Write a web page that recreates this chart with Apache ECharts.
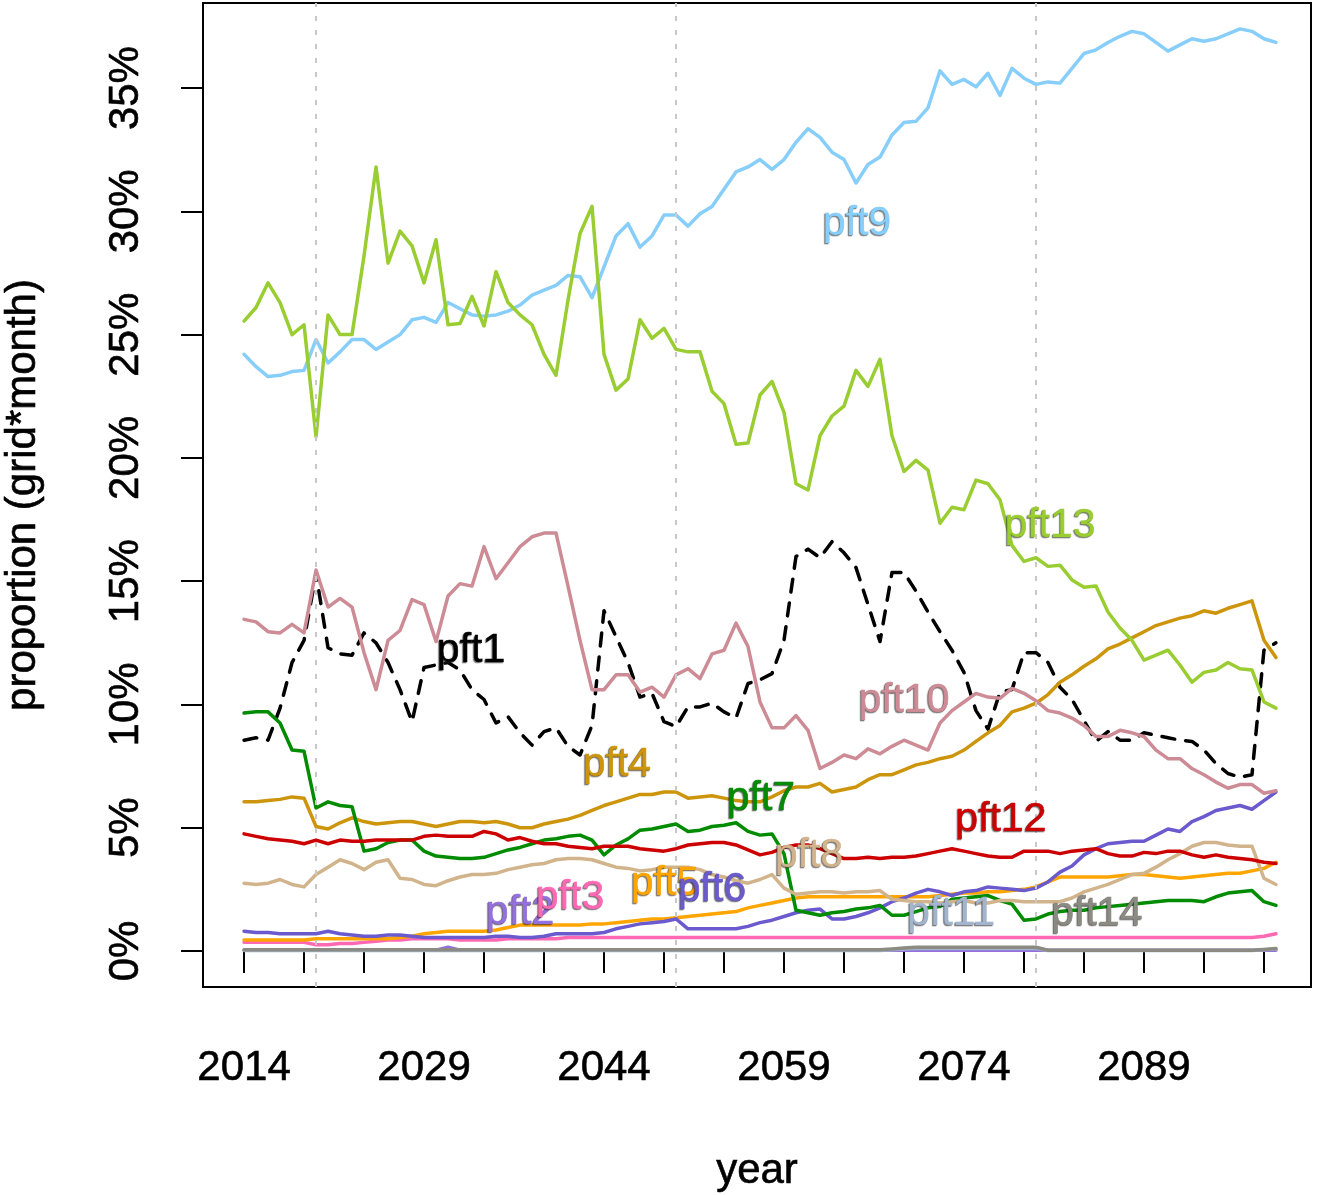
<!DOCTYPE html>
<html><head><meta charset="utf-8">
<script src="https://cdn.jsdelivr.net/npm/echarts@6/dist/echarts.min.js"></script>
<style>html,body{margin:0;padding:0;background:#fff;} #c{width:1321px;height:1195px;}</style>
</head><body><div id="c"></div>
<script>
const years = [2014,2015,2016,2017,2018,2019,2020,2021,2022,2023,
 2024,2025,2026,2027,2028,2029,2030,2031,2032,2033,
 2034,2035,2036,2037,2038,2039,2040,2041,2042,2043,
 2044,2045,2046,2047,2048,2049,2050,2051,2052,2053,
 2054,2055,2056,2057,2058,2059,2060,2061,2062,2063,
 2064,2065,2066,2067,2068,2069,2070,2071,2072,2073,
 2074,2075,2076,2077,2078,2079,2080,2081,2082,2083,
 2084,2085,2086,2087,2088,2089,2090,2091,2092,2093,
 2094,2095,2096,2097,2098,2099,2100];

const pft1 = [8.55,8.65,8.55,9.85,11.7,12.6,15.3,12.3,12.05,12.0,
 12.9,12.5,11.7,10.6,9.3,11.5,11.6,11.7,11.4,10.6,
 10.2,9.25,9.5,8.85,8.35,8.9,9.05,8.3,7.95,9.15,
 13.8,12.75,11.7,10.3,10.45,9.3,9.1,9.9,9.9,10.05,
 9.7,9.45,10.85,11.0,11.25,12.6,16.0,16.3,15.95,16.6,
 16.15,15.55,14.05,12.55,15.35,15.35,14.6,13.75,12.95,12.2,
 11.3,9.75,9.0,10.5,10.6,12.1,12.1,11.7,10.7,10.2,
 9.35,8.5,8.9,8.55,8.55,8.85,8.75,8.65,8.55,8.5,
 8.15,7.6,7.2,7.05,7.15,12.2,12.5];

const pft2 = [0.03,0.03,0.03,0.03,0.03,0.03,0.03,0.03,0.03,0.03,
 0.03,0.03,0.03,0.03,0.03,0.03,0.03,0.15,0.03,0.03,
 0.03,0.03,0.03,0.03,0.03,0.03,0.03,0.03,0.03,0.03,
 0.03,0.03,0.03,0.03,0.03,0.03,0.03,0.03,0.03,0.03,
 0.03,0.03,0.03,0.03,0.03,0.03,0.03,0.03,0.03,0.03,
 0.03,0.03,0.03,0.03,0.03,0.03,0.03,0.03,0.03,0.03,
 0.03,0.03,0.03,0.03,0.03,0.03,0.03,0.03,0.03,0.03,
 0.03,0.03,0.03,0.03,0.03,0.03,0.03,0.03,0.03,0.03,
 0.03,0.03,0.03,0.03,0.03,0.03,0.03];

const pft3 = [0.35,0.35,0.35,0.35,0.35,0.35,0.25,0.25,0.3,0.3,
 0.35,0.4,0.45,0.45,0.5,0.5,0.5,0.5,0.45,0.45,
 0.45,0.45,0.5,0.5,0.5,0.5,0.5,0.55,0.55,0.55,
 0.55,0.55,0.55,0.55,0.55,0.55,0.55,0.55,0.55,0.55,
 0.55,0.55,0.55,0.55,0.55,0.55,0.55,0.55,0.55,0.55,
 0.55,0.55,0.55,0.55,0.55,0.55,0.55,0.55,0.55,0.55,
 0.55,0.55,0.55,0.55,0.55,0.55,0.55,0.55,0.55,0.55,
 0.55,0.55,0.55,0.55,0.55,0.55,0.55,0.55,0.55,0.55,
 0.55,0.55,0.55,0.55,0.55,0.6,0.7];

const pft4 = [6.05,6.05,6.1,6.15,6.25,6.2,5.05,4.95,5.2,5.4,
 5.25,5.15,5.2,5.25,5.25,5.15,5.05,5.15,5.25,5.25,
 5.2,5.25,5.15,5.0,5.0,5.15,5.25,5.35,5.5,5.7,
 5.9,6.05,6.2,6.35,6.35,6.45,6.45,6.2,6.25,6.3,
 6.2,6.1,6.05,6.05,6.25,6.5,6.65,6.65,6.8,6.45,
 6.55,6.65,6.95,7.15,7.15,7.35,7.55,7.65,7.8,7.9,
 8.15,8.5,8.85,9.15,9.7,9.85,10.05,10.4,10.9,11.2,
 11.55,11.85,12.25,12.45,12.7,12.95,13.2,13.35,13.5,13.6,
 13.8,13.7,13.9,14.05,14.2,12.6,11.9];

const pft5 = [0.45,0.45,0.45,0.45,0.45,0.45,0.5,0.5,0.5,0.5,
 0.5,0.5,0.5,0.55,0.6,0.7,0.75,0.8,0.8,0.8,
 0.8,0.85,0.95,1.05,1.05,1.05,1.05,1.05,1.05,1.1,
 1.1,1.15,1.2,1.25,1.3,1.3,1.35,1.4,1.45,1.5,
 1.55,1.6,1.75,1.85,1.95,2.05,2.15,2.2,2.2,2.2,
 2.2,2.2,2.2,2.2,2.2,2.2,2.2,2.2,2.25,2.3,
 2.35,2.35,2.4,2.4,2.45,2.5,2.6,2.8,3.0,3.0,
 3.0,3.0,3.0,3.05,3.1,3.1,3.05,3.0,2.95,3.0,
 3.05,3.1,3.15,3.15,3.25,3.35,3.6];

const pft6 = [0.8,0.75,0.75,0.7,0.7,0.7,0.7,0.8,0.7,0.65,
 0.6,0.6,0.65,0.65,0.6,0.55,0.55,0.55,0.55,0.55,
 0.55,0.6,0.6,0.55,0.55,0.6,0.7,0.7,0.7,0.7,
 0.75,0.9,1.0,1.1,1.15,1.2,1.3,0.9,0.9,0.9,
 0.9,0.9,1.0,1.15,1.25,1.4,1.55,1.65,1.7,1.3,
 1.3,1.4,1.55,1.75,2.0,2.15,2.35,2.5,2.4,2.25,
 2.4,2.45,2.6,2.55,2.5,2.45,2.55,2.8,3.2,3.45,
 3.9,4.15,4.35,4.4,4.45,4.45,4.7,4.95,4.85,5.25,
 5.45,5.7,5.8,5.9,5.75,6.1,6.45];

const pft7 = [9.65,9.7,9.7,9.25,8.15,8.1,5.8,6.05,5.9,5.85,
 4.05,4.15,4.4,4.5,4.5,4.05,3.85,3.8,3.75,3.75,
 3.8,3.95,4.1,4.2,4.35,4.5,4.55,4.65,4.7,4.5,
 3.9,4.3,4.55,4.9,4.95,5.05,5.15,4.85,4.9,5.05,
 5.1,5.2,4.85,4.7,4.75,3.95,1.65,1.55,1.45,1.55,
 1.6,1.7,1.75,1.85,1.45,1.45,1.6,1.75,1.8,2.1,
 2.15,2.2,2.25,2.05,1.9,1.25,1.3,1.5,1.6,1.65,
 1.65,1.75,1.8,1.85,1.9,1.95,2.0,2.05,2.05,2.05,
 2.0,2.2,2.35,2.4,2.45,2.0,1.85];

const pft8 = [2.75,2.7,2.75,2.9,2.7,2.6,3.1,3.4,3.7,3.55,
 3.3,3.6,3.7,2.95,2.9,2.7,2.65,2.85,3.0,3.1,
 3.1,3.15,3.3,3.4,3.5,3.55,3.7,3.75,3.75,3.7,
 3.55,3.4,3.35,3.25,3.3,3.4,3.4,3.4,3.3,3.1,
 3.0,2.85,2.75,2.9,3.1,2.55,2.3,2.35,2.4,2.4,
 2.35,2.4,2.4,2.45,2.1,2.05,2.0,2.0,1.95,2.0,
 2.05,1.95,1.95,2.05,2.05,2.0,2.0,2.0,2.0,2.15,
 2.4,2.55,2.7,2.9,3.1,3.15,3.4,3.7,3.95,4.25,
 4.4,4.4,4.3,4.25,4.25,2.95,2.7];

const pft9 = [24.2,23.7,23.3,23.35,23.5,23.55,24.8,23.85,24.3,24.8,
 24.8,24.4,24.7,25.0,25.6,25.7,25.5,26.3,26.05,25.8,
 25.75,25.8,25.95,26.2,26.6,26.8,27.0,27.4,27.35,26.5,
 27.75,29.0,29.5,28.55,29.0,29.85,29.85,29.4,29.9,30.2,
 30.9,31.6,31.8,32.1,31.7,32.1,32.8,33.35,33.0,32.4,
 32.1,31.15,31.9,32.2,33.1,33.6,33.65,34.2,35.7,35.15,
 35.35,35.05,35.6,34.7,35.8,35.4,35.15,35.25,35.2,35.8,
 36.4,36.55,36.85,37.1,37.3,37.2,36.85,36.5,36.75,37.0,
 36.9,37.0,37.2,37.4,37.3,37.0,36.85];

const pft10 = [13.45,13.35,12.95,12.9,13.25,12.9,15.45,13.95,14.3,13.95,
 12.1,10.6,12.6,13.0,14.25,14.05,12.55,14.4,14.9,14.8,
 16.4,15.1,15.75,16.4,16.8,16.95,16.95,14.8,12.6,10.6,
 10.6,11.2,11.2,10.5,10.7,10.3,11.2,11.45,11.05,12.05,
 12.2,13.3,12.35,10.1,9.05,9.05,9.55,8.95,7.4,7.65,
 7.95,7.8,8.2,8.0,8.3,8.55,8.35,8.15,9.25,9.75,
 10.1,10.45,10.3,10.25,10.65,10.45,10.15,9.75,9.65,9.45,
 9.15,8.7,8.7,8.95,8.85,8.7,8.15,7.8,7.8,7.4,
 7.15,6.85,6.6,6.75,6.75,6.4,6.5];

const pft11 = [0.02,0.02,0.02,0.02,0.02,0.02,0.02,0.02,0.02,0.02,
 0.02,0.02,0.02,0.02,0.02,0.02,0.02,0.02,0.02,0.02,
 0.02,0.02,0.02,0.02,0.02,0.02,0.02,0.02,0.02,0.02,
 0.02,0.02,0.02,0.02,0.02,0.02,0.02,0.02,0.02,0.02,
 0.02,0.02,0.02,0.02,0.02,0.02,0.02,0.02,0.02,0.02,
 0.02,0.02,0.02,0.02,0.05,0.08,0.1,0.1,0.1,0.1,
 0.1,0.1,0.1,0.1,0.1,0.1,0.1,0.02,0.02,0.02,
 0.02,0.02,0.02,0.02,0.02,0.02,0.02,0.02,0.02,0.02,
 0.02,0.02,0.02,0.02,0.02,0.05,0.08];

const pft12 = [4.75,4.65,4.55,4.5,4.45,4.35,4.5,4.35,4.5,4.45,
 4.45,4.5,4.5,4.5,4.5,4.65,4.7,4.65,4.65,4.65,
 4.85,4.75,4.5,4.6,4.45,4.35,4.35,4.25,4.2,4.15,
 4.25,4.25,4.25,4.15,4.1,4.05,4.15,4.3,4.35,4.4,
 4.4,4.3,4.1,3.9,4.0,4.2,4.3,4.3,4.15,3.95,
 3.75,3.75,3.8,3.75,3.8,3.8,3.85,3.95,4.05,4.15,
 4.05,3.95,3.85,3.8,3.8,4.05,4.05,4.05,3.95,4.05,
 4.1,4.15,3.95,3.85,3.85,4.0,3.95,4.05,4.05,3.9,
 3.8,3.9,3.8,3.75,3.7,3.6,3.55];

const pft13 = [25.55,26.1,27.1,26.3,25.0,25.4,20.85,25.8,25.0,25.0,
 28.2,31.8,27.9,29.2,28.6,27.1,28.85,25.4,25.45,26.55,
 25.35,27.55,26.3,25.8,25.4,24.2,23.35,26.4,29.1,30.2,
 24.2,22.75,23.2,25.6,24.85,25.25,24.4,24.3,24.3,22.7,
 22.2,20.55,20.6,22.55,23.1,21.85,18.95,18.7,20.9,21.7,
 22.1,23.55,22.9,24.0,20.9,19.45,19.9,19.5,17.35,18.0,
 17.9,19.1,18.95,18.3,16.45,15.8,15.95,15.6,15.65,15.05,
 14.75,14.8,13.75,13.1,12.6,11.8,12.0,12.2,11.6,10.9,
 11.3,11.4,11.7,11.45,11.4,10.1,9.85];

const pft14 = [0.05,0.05,0.05,0.05,0.05,0.05,0.05,0.05,0.05,0.05,
 0.05,0.05,0.05,0.05,0.05,0.05,0.05,0.05,0.05,0.05,
 0.05,0.05,0.05,0.05,0.05,0.05,0.05,0.05,0.05,0.05,
 0.05,0.05,0.05,0.05,0.05,0.05,0.05,0.05,0.05,0.05,
 0.05,0.05,0.05,0.05,0.05,0.05,0.05,0.05,0.05,0.05,
 0.05,0.05,0.05,0.05,0.08,0.12,0.15,0.15,0.15,0.15,
 0.15,0.15,0.15,0.15,0.15,0.15,0.15,0.03,0.03,0.03,
 0.03,0.03,0.03,0.03,0.03,0.03,0.03,0.03,0.03,0.03,
 0.03,0.03,0.03,0.03,0.03,0.06,0.1];

const seriesNames = ['pft1','pft2','pft3','pft4','pft5','pft6','pft7','pft8','pft9','pft10','pft11','pft12','pft13','pft14'];
const seriesValues = [pft1,pft2,pft3,pft4,pft5,pft6,pft7,pft8,pft9,pft10,pft11,pft12,pft13,pft14];

const xTicks = [2014,2019,2024,2029,2034,2039,2044,2049,2054,2059,2064,2069,2074,2079,2084,2089,2094,2099];
const xTickLabels = [2014,2029,2044,2059,2074,2089];
const yTicks = [0,5,10,15,20,25,30,35];
const refYears = [2020,2050,2080];

// label anchors in data units: [year, percent]
const labelAnchors = {
  pft1:[2032.92,12.17], pft2:[2037.0,1.54], pft3:[2041.17,2.15], pft4:[2045.08,7.55],
  pft5:[2049.08,2.72], pft6:[2053.0,2.48], pft7:[2057.08,6.17], pft8:[2061.08,3.86],
  pft9:[2065.08,29.49], pft10:[2069.0,10.14], pft11:[2072.92,1.50], pft12:[2077.08,5.32],
  pft13:[2081.17,17.25], pft14:[2085.08,1.50]
};

const colors = {
  pft1:'#000000', pft2:'#9370DB', pft3:'#FF69B4', pft4:'#CD950C', pft5:'#FFA500',
  pft6:'#6A5ACD', pft7:'#008B00', pft8:'#D2B48C', pft9:'#87CEFA', pft10:'#CD8C95',
  pft11:'#A2B5CD', pft12:'#CD0000', pft13:'#9ACD32', pft14:'#8B8B83'
};

const FONT = '"Liberation Sans", Arial, Helvetica, sans-serif';
const chart = echarts.init(document.getElementById('c'), null, {renderer:'canvas'});

const series = seriesNames.map((n, i) => ({
  name: n,
  type: 'line',
  data: years.map((y, j) => [y, seriesValues[i][j]]),
  showSymbol: false,
  symbol: 'none',
  silent: true,
  lineStyle: {color: colors[n], width: 3.5, type: n === 'pft1' ? [13, 11] : 'solid', cap: 'round', join: 'round'},
  itemStyle: {color: colors[n]},
  markPoint: {
    silent: true,
    symbol: 'circle',
    symbolSize: 1,
    itemStyle: {color: 'rgba(0,0,0,0)'},
    data: [{coord: labelAnchors[n], value: n}],
    label: {
      show: true, position: 'inside', formatter: n,
      fontSize: 41, fontFamily: FONT, color: colors[n],
      textBorderColor: colors[n], textBorderWidth: 0.6,
      textShadowColor: 'rgba(40,40,40,0.55)', textShadowOffsetX: -1, textShadowOffsetY: 1, textShadowBlur: 1
    }
  }
}));

series.push({
  name: 'ref', type: 'line', data: [], silent: true, z: 6,
  markLine: {
    silent: true, symbol: ['none', 'none'], label: {show: false},
    lineStyle: {color: '#c8c8c8', width: 2, type: [5, 9]},
    data: refYears.map(y => ({xAxis: y}))
  }
});

const axisText = {fontSize: 42, color: '#000', fontFamily: FONT, textBorderColor: '#000', textBorderWidth: 0.6};

chart.setOption({
  animation: false,
  backgroundColor: '#ffffff',
  grid: {left: 203, top: 3, width: 1108, height: 984, show: true, borderColor: '#000', borderWidth: 2,
         backgroundColor: 'transparent', containLabel: false, outerBoundsMode: 'none'},
  xAxis: {
    type: 'value', min: 2010.58, max: 2102.92,
    splitLine: {show: false}, axisLine: {show: false},
    axisTick: {show: true, customValues: xTicks, length: 22, lineStyle: {color: '#000', width: 2}},
    axisLabel: Object.assign({show: true, customValues: xTickLabels, margin: 60, formatter: v => String(v)}, axisText),
    name: 'year', nameLocation: 'middle', nameGap: 163,
    nameTextStyle: axisText
  },
  yAxis: {
    type: 'value', min: -1.46, max: 38.45,
    splitLine: {show: false}, axisLine: {show: false},
    axisTick: {show: true, customValues: yTicks, length: 22, lineStyle: {color: '#000', width: 2}},
    axisLabel: Object.assign({show: true, customValues: yTicks, rotate: 90, margin: 56, formatter: v => v + '%'}, axisText),
    name: 'proportion (grid*month)', nameLocation: 'middle', nameRotate: 90, nameGap: 159,
    nameTextStyle: axisText
  },
  series: series
});
</script>
</body></html>
